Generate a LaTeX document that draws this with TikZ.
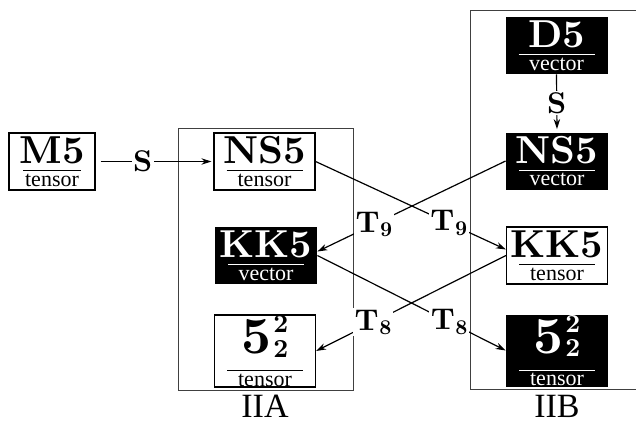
\documentclass[tikz,border=0pt]{standalone}
\usepackage[no-math]{fontspec}
\setmainfont{Liberation Serif}
\newfontfamily\lmbf{lmroman10-bold.otf}
\usetikzlibrary{arrows.meta}
\newlength\ruw
% #1 rule width, #2 kern above rule, #3 top material, #4 bottom word
\newcommand\brane[4][38pt]{%
  \setbox1=\hbox{#3}%
  \ruw=#1
  \setbox2=\hbox{\fontsize{11}{11}\selectfont #4}%
  \vbox{\offinterlineskip\halign{\hfil##\hfil\cr\box1\cr\noalign{\kern#2}\vrule width\ruw height0.5pt depth0pt\cr\noalign{\kern1.4pt}\box2\cr}}}
\newcommand\bigb[1]{{\lmbf\fontsize{19.5}{19.5}\selectfont #1}}
\newcommand\fivett{\setbox3=\hbox{\lmbf\fontsize{13}{13}\selectfont 2}%
  {\lmbf\fontsize{26}{26}\selectfont 5}\kern1pt\rlap{\raise 10.5pt\copy3}\lower 1.8pt\box3}
\newcommand\opT[1]{{\lmbf\fontsize{15}{15}\selectfont T\kern0.3pt\lower2.2pt\hbox{\fontsize{10.5}{10.5}\selectfont #1}}}
\tikzset{
  wbox/.style={draw=black, line width=0.6pt, fill=white, minimum width=50.5pt, minimum height=28.5pt, inner sep=0pt},
  bbox/.style={fill=black, text=white, minimum width=51pt, minimum height=28.5pt, inner sep=0pt},
  tall/.style={minimum height=36pt},
  frame/.style={draw=black!75, line width=0.5pt},
  conn/.style={line width=0.6pt, -{Stealth[length=5pt,width=3.2pt]}},
  op/.style={fill=white, inner sep=0.8pt, font=\lmbf\fontsize{15}{15}\selectfont},
  grp/.style={font=\fontsize{17}{17}\selectfont}
}
\begin{document}
\begin{tikzpicture}[x=0.5pt, y=-0.5pt]
\useasboundingbox (0,0) rectangle (636,423);
% frames
\draw[frame] (178,128) rectangle (353,390);
\draw[frame] (640,10) -- (470,10) -- (470,389) -- (640,389);
\node[grp] (iia) at (265,406) {IIA};
\node[grp] (iib) at (557,406) {IIB};
% branes
\node[wbox, minimum width=43pt] (m5) at (52,161.5) {\brane[29pt]{3pt}{\bigb{M5}}{tensor}};
\node[wbox] (ns5a) at (264.5,161.5) {\brane{3pt}{\bigb{NS5}}{tensor}};
\node[bbox] (kk5a) at (266,255.5) {\brane{3pt}{\bigb{KK5}}{vector}};
\node[wbox, tall] (e5a) at (265,351) {\brane{6.5pt}{\fivett}{tensor}};
\node[bbox] (d5) at (556.5,45.5) {\brane{3pt}{\bigb{D5}}{vector}};
\node[bbox] (ns5b) at (557,161) {\brane{3pt}{\bigb{NS5}}{vector}};
\node[wbox] (kk5b) at (557,255.5) {\brane{3pt}{\bigb{KK5}}{tensor}};
\node[bbox, tall] (e5b) at (557,350.5) {\brane{6.5pt}{\fivett}{tensor}};
% connectors
\draw[conn, shorten <=2.5pt, shorten >=1pt] (m5.east) -- node[op, pos=0.4] (s1) {S} (ns5a.west);
\draw[conn, shorten >=1.5pt] (d5.south) -- node[op, pos=0.5] (s2) {S} (ns5b.north);
\draw[conn] (ns5a.east) -- node[op, pos=0.7] (t9a) {\opT{9}} ([yshift=3pt]kk5b.west);
\draw[conn] (ns5b.west) -- node[op, pos=0.7] (t9b) {\opT{9}} ([yshift=2pt]kk5a.east);
\draw[conn] (kk5a.east) -- node[op, pos=0.7] (t8a) {\opT{8}} (e5b.west);
\draw[conn] (kk5b.west) -- node[op, pos=0.7] (t8b) {\opT{8}} (e5a.east);
\end{tikzpicture}
\end{document}
